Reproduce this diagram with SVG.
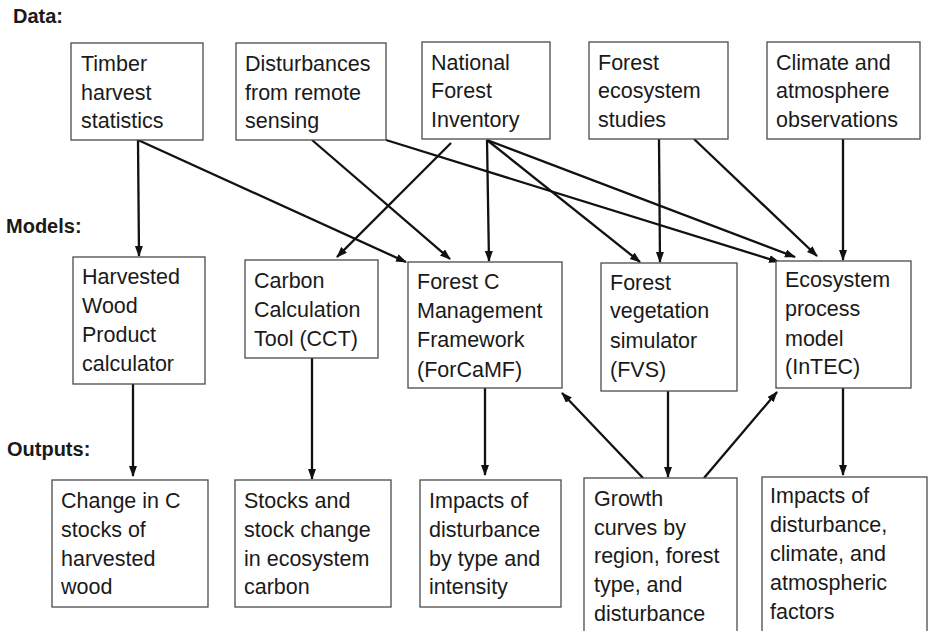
<svg xmlns="http://www.w3.org/2000/svg" width="928" height="631" viewBox="0 0 928 631">
<defs>
<style>
.box{fill:#fff;stroke:#4a4a4a;stroke-width:1.3}
.t{font-family:"Liberation Sans",Arial,sans-serif;font-size:21.5px;fill:#1a1a1a}
.h{font-family:"Liberation Sans",Arial,sans-serif;font-size:20px;font-weight:bold;fill:#1a1a1a}
.c{stroke:#111;stroke-width:2.3;fill:none;marker-end:url(#ah)}
</style>
<marker id="ah" markerUnits="userSpaceOnUse" markerWidth="12" markerHeight="10" refX="10" refY="4" orient="auto">
<path d="M0,0 L11,4 L0,8 z" fill="#111"/>
</marker>
</defs>
<rect width="928" height="631" fill="#fff"/>
<text class="h" x="13" y="23">Data:</text>
<text class="h" x="6" y="233">Models:</text>
<text class="h" x="7" y="456">Outputs:</text>

<g id="connectors">
<line class="c" x1="138" y1="140" x2="139" y2="256"/>
<line class="c" x1="138" y1="140" x2="406" y2="262"/>
<line class="c" x1="312" y1="140" x2="450" y2="259"/>
<line class="c" x1="386" y1="140" x2="779" y2="262"/>
<line class="c" x1="451" y1="143" x2="337" y2="257"/>
<line class="c" x1="487" y1="140" x2="489" y2="261"/>
<line class="c" x1="487" y1="140" x2="640" y2="262"/>
<line class="c" x1="487" y1="140" x2="795" y2="257"/>
<line class="c" x1="659" y1="139" x2="660" y2="262"/>
<line class="c" x1="694" y1="139" x2="817" y2="256"/>
<line class="c" x1="843" y1="139" x2="843" y2="260"/>
<line class="c" x1="133" y1="384" x2="133" y2="476"/>
<line class="c" x1="312" y1="358" x2="312" y2="479"/>
<line class="c" x1="485" y1="388" x2="485" y2="475"/>
<line class="c" x1="668" y1="391" x2="668" y2="477"/>
<line class="c" x1="643" y1="478" x2="562" y2="393"/>
<line class="c" x1="704" y1="478" x2="777" y2="392"/>
<line class="c" x1="843" y1="388" x2="843" y2="475"/>
</g>

<g id="timber"><rect class="box" x="71" y="43" width="132" height="97"/>
<text class="t" x="81"><tspan x="81" y="71">Timber</tspan><tspan x="81" y="100">harvest</tspan><tspan x="81" y="128">statistics</tspan></text></g>
<g id="disturbances"><rect class="box" x="236" y="43" width="150" height="97"/>
<text class="t"><tspan x="245" y="71">Disturbances</tspan><tspan x="245" y="100">from remote</tspan><tspan x="245" y="128">sensing</tspan></text></g>
<g id="nfi"><rect class="box" x="422" y="42" width="128" height="97"/>
<text class="t"><tspan x="431" y="70">National</tspan><tspan x="431" y="98">Forest</tspan><tspan x="431" y="127">Inventory</tspan></text></g>
<g id="fes"><rect class="box" x="589" y="42" width="139" height="97"/>
<text class="t"><tspan x="598" y="70">Forest</tspan><tspan x="598" y="98">ecosystem</tspan><tspan x="598" y="127">studies</tspan></text></g>
<g id="climate"><rect class="box" x="767" y="42" width="153" height="97"/>
<text class="t"><tspan x="776" y="70">Climate and</tspan><tspan x="776" y="98">atmosphere</tspan><tspan x="776" y="127">observations</tspan></text></g>

<g id="hwp"><rect class="box" x="73" y="257" width="132" height="127"/>
<text class="t"><tspan x="82" y="284">Harvested</tspan><tspan x="82" y="313">Wood</tspan><tspan x="82" y="342">Product</tspan><tspan x="82" y="371">calculator</tspan></text></g>
<g id="cct"><rect class="box" x="245" y="260" width="133" height="98"/>
<text class="t"><tspan x="254" y="288">Carbon</tspan><tspan x="254" y="317">Calculation</tspan><tspan x="254" y="346">Tool (CCT)</tspan></text></g>
<g id="forcamf"><rect class="box" x="408" y="262" width="154" height="126"/>
<text class="t"><tspan x="417" y="289">Forest C</tspan><tspan x="417" y="318">Management</tspan><tspan x="417" y="347">Framework</tspan><tspan x="417" y="377">(ForCaMF)</tspan></text></g>
<g id="fvs"><rect class="box" x="601" y="263" width="136" height="128"/>
<text class="t"><tspan x="610" y="290">Forest</tspan><tspan x="610" y="318">vegetation</tspan><tspan x="610" y="348">simulator</tspan><tspan x="610" y="377">(FVS)</tspan></text></g>
<g id="intec"><rect class="box" x="776" y="261" width="135" height="127"/>
<text class="t"><tspan x="785" y="287">Ecosystem</tspan><tspan x="785" y="316">process</tspan><tspan x="785" y="346">model</tspan><tspan x="785" y="374">(InTEC)</tspan></text></g>

<g id="out1"><rect class="box" x="52" y="480" width="156" height="127"/>
<text class="t"><tspan x="61" y="508">Change in C</tspan><tspan x="61" y="537">stocks of</tspan><tspan x="61" y="566">harvested</tspan><tspan x="61" y="594">wood</tspan></text></g>
<g id="out2"><rect class="box" x="235" y="480" width="156" height="127"/>
<text class="t"><tspan x="244" y="508">Stocks and</tspan><tspan x="244" y="537">stock change</tspan><tspan x="244" y="566">in ecosystem</tspan><tspan x="244" y="594">carbon</tspan></text></g>
<g id="out3"><rect class="box" x="420" y="480" width="141" height="127"/>
<text class="t"><tspan x="429" y="508">Impacts of</tspan><tspan x="429" y="537">disturbance</tspan><tspan x="429" y="566">by type and</tspan><tspan x="429" y="594">intensity</tspan></text></g>
<g id="out4"><rect class="box" x="584" y="478" width="153" height="160"/>
<text class="t"><tspan x="594" y="506">Growth</tspan><tspan x="594" y="535">curves by</tspan><tspan x="594" y="563">region, forest</tspan><tspan x="594" y="592">type, and</tspan><tspan x="594" y="621">disturbance</tspan></text></g>
<g id="out5"><rect class="box" x="762" y="477" width="165" height="160"/>
<text class="t"><tspan x="770" y="503">Impacts of</tspan><tspan x="770" y="532">disturbance,</tspan><tspan x="770" y="561">climate, and</tspan><tspan x="770" y="590">atmospheric</tspan><tspan x="770" y="619">factors</tspan></text></g>
</svg>
